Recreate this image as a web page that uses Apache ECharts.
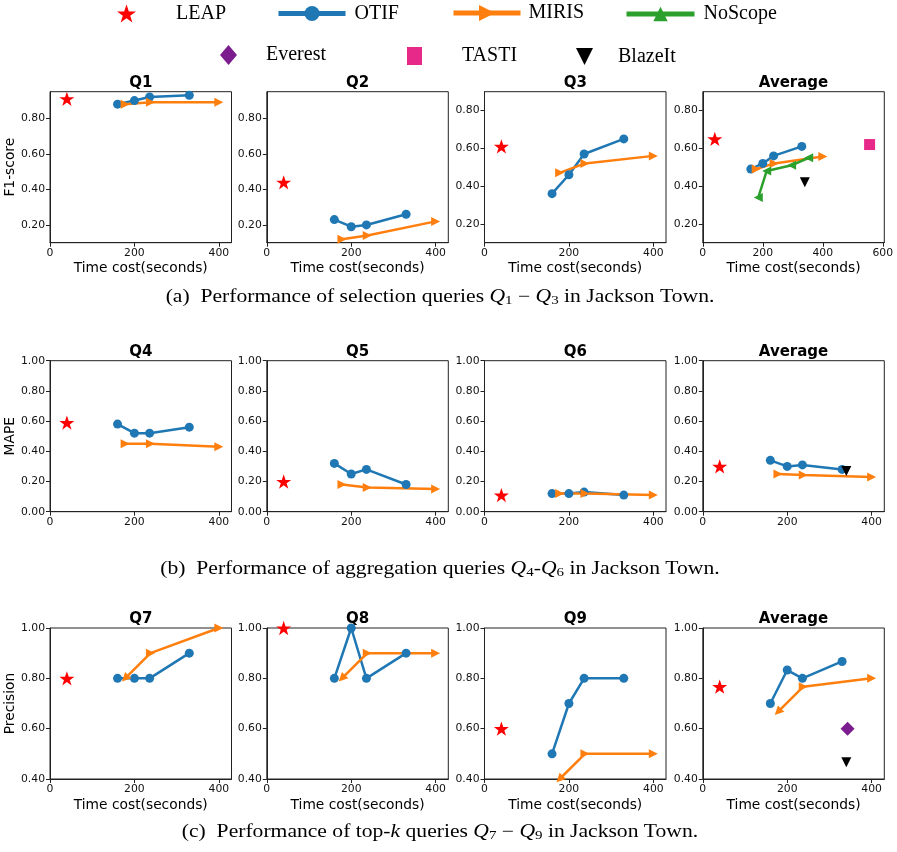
<!DOCTYPE html>
<html><head><meta charset="utf-8">
<script src="https://cdn.jsdelivr.net/npm/echarts@6/dist/echarts.min.js"></script>
<style>html,body{margin:0;padding:0;background:#fff}#c{width:897px;height:852px}</style>
</head><body><div id="c"></div>
<script>
// ---------- data ----------
const xTicks = [0, 200, 400];
const xTicksWide = [0, 200, 400, 600];
const yTicksF1 = [0.2, 0.4, 0.6, 0.8];
const yTicksMape = [0, 0.2, 0.4, 0.6, 0.8, 1.0];
const yTicksPrec = [0.4, 0.6, 0.8, 1.0];

const panelTitles = ['Q1', 'Q2', 'Q3', 'Average', 'Q4', 'Q5', 'Q6', 'Average', 'Q7', 'Q8', 'Q9', 'Average'];
const rowMetrics = ['F1-score', 'MAPE', 'Precision'];
const xAxisTitle = 'Time cost(seconds)';

const leapTime = [40];
const otifTime = [160, 200, 236, 330];
const mirisTime = [178, 238, 400];
const noscopeTime = [185, 213, 296, 353];
const blazeitTime = [340];
const everestTime = [343];
const tastiTime = [556];

const leapScore = [0.91, 0.44, 0.61, 0.65, 0.59, 0.20, 0.11, 0.30, 0.80, 1.00, 0.60, 0.767];

const otifQ1 = [0.88, 0.90, 0.92, 0.93];
const otifQ2 = [0.23, 0.19, 0.20, 0.26];
const otifQ3 = [0.36, 0.46, 0.57, 0.65];
const otifAvgA = [0.49, 0.52, 0.56, 0.61];
const otifQ4 = [0.58, 0.52, 0.52, 0.56];
const otifQ5 = [0.32, 0.25, 0.28, 0.18];
const otifQ6 = [0.12, 0.12, 0.13, 0.11];
const otifAvgB = [0.34, 0.30, 0.31, 0.28];
const otifQ7 = [0.80, 0.80, 0.80, 0.90];
const otifQ8 = [0.80, 1.00, 0.80, 0.90];
const otifQ9 = [0.50, 0.70, 0.80, 0.80];
const otifAvgC = [0.70, 0.833, 0.80, 0.867];

const mirisQ1 = [0.88, 0.89, 0.89];
const mirisQ2 = [0.12, 0.14, 0.22];
const mirisQ3 = [0.47, 0.52, 0.56];
const mirisAvgA = [0.49, 0.52, 0.557];
const mirisQ4 = [0.45, 0.45, 0.43];
const mirisQ5 = [0.18, 0.16, 0.15];
const mirisQ6 = [0.12, 0.12, 0.11];
const mirisAvgB = [0.25, 0.243, 0.23];
const mirisQ7 = [0.80, 0.90, 1.00];
const mirisQ8 = [0.80, 0.90, 0.90];
const mirisQ9 = [0.40, 0.50, 0.50];
const mirisAvgC = [0.667, 0.767, 0.80];

const noscopeAvgA = [0.34, 0.48, 0.51, 0.55];
const blazeitAvg = [0.42, 0.27, 0.467];   // rows a, b, c
const tastiAvgA = [0.62];
const everestAvgC = [0.60];

const otifAll = [otifQ1, otifQ2, otifQ3, otifAvgA, otifQ4, otifQ5, otifQ6, otifAvgB, otifQ7, otifQ8, otifQ9, otifAvgC];
const mirisAll = [mirisQ1, mirisQ2, mirisQ3, mirisAvgA, mirisQ4, mirisQ5, mirisQ6, mirisAvgB, mirisQ7, mirisQ8, mirisQ9, mirisAvgC];

// ---------- layout / style ----------
const colLeft = [50, 266.8, 484.5, 702.8];
const rowTop = [91.7, 360.7, 628];
const W = 181.5, H = 151;
const yRange = [[0.1, 0.95], [0.1, 0.95], [0.1, 0.9], [0.1, 0.9]];
const C = {leap: '#ff0000', otif: '#1f77b4', miris: '#ff7f0e', noscope: '#2ca02c', everest: '#7b1d8e', tasti: '#e7298a', blazeit: '#000000'};
const STAR = 'path://M50,0L61.8,35.1L97.6,35.1L68.6,56.7L79.4,90.5L50,69.1L20.6,90.5L31.4,56.7L2.4,35.1L38.2,35.1Z';
const TRI_DOWN = 'path://M0,0L10,0L5,10Z';
const SANS = 'DejaVu Sans';
const SERIF = 'Liberation Serif';
const AX = '#222';

const pairs = (xs, ys) => xs.map((x, i) => [x, ys[i]]);

const grids = [], xAxes = [], yAxes = [], series = [], graphics = [];

for (let p = 0; p < 12; p++) {
  const r = Math.floor(p / 4), c = p % 4;
  const isAvgA = p === 3;
  grids.push({left: colLeft[c], top: rowTop[r], width: W, height: H, show: true, borderColor: AX, borderWidth: 1, backgroundColor: 'transparent'});
  const xt = isAvgA ? xTicksWide : xTicks;
  xAxes.push({
    type: 'value', gridIndex: p, min: 0, max: isAvgA ? 605 : 430,
    name: r === 1 ? '' : xAxisTitle, nameLocation: 'middle', nameGap: 19,
    nameTextStyle: {fontFamily: SANS, fontSize: 13.8, color: '#000'},
    axisLine: {show: true, lineStyle: {color: AX, width: 1}},
    axisTick: {show: true, length: 4, inside: false, customValues: xt, lineStyle: {color: AX}},
    axisLabel: {customValues: xt, margin: 5, fontFamily: SANS, fontSize: 10.8, color: '#111', formatter: v => String(v)},
    splitLine: {show: false}
  });
  let ymin, ymax, yt;
  if (r === 0) { ymin = yRange[c][0]; ymax = yRange[c][1]; yt = yTicksF1; }
  else if (r === 1) { ymin = 0; ymax = 1; yt = yTicksMape; }
  else { ymin = 0.4; ymax = 1; yt = yTicksPrec; }
  yAxes.push({
    type: 'value', gridIndex: p, min: ymin, max: ymax,
    name: c === 0 ? rowMetrics[r] : '', nameLocation: 'middle', nameGap: 33,
    nameTextStyle: {fontFamily: SANS, fontSize: 13.8, color: '#000'},
    axisLine: {show: true, lineStyle: {color: AX, width: 1}},
    axisTick: {show: true, length: 4, inside: false, customValues: yt, lineStyle: {color: AX}},
    axisLabel: {customValues: yt, margin: 5, fontFamily: SANS, fontSize: 10.8, color: '#111', formatter: v => v.toFixed(2)},
    splitLine: {show: false}
  });
  graphics.push({type: 'text', x: colLeft[c] + W / 2, y: rowTop[r] - 9,
    style: {text: panelTitles[p], fontFamily: SANS, fontWeight: 'bold', fontSize: 15, fill: '#000', align: 'center', verticalAlign: 'middle'}});

  series.push({type: 'scatter', name: 'LEAP', xAxisIndex: p, yAxisIndex: p, symbol: STAR, symbolSize: 15, symbolKeepAspect: true,
    itemStyle: {color: C.leap, opacity: 1}, data: pairs(leapTime, [leapScore[p]]), z: 3});
  series.push({type: 'line', name: 'OTIF', xAxisIndex: p, yAxisIndex: p, symbol: 'circle', symbolSize: 9, showSymbol: true,
    lineStyle: {width: 2.5, color: C.otif}, itemStyle: {color: C.otif}, data: pairs(otifTime, otifAll[p]), z: 3});
  const md = pairs(mirisTime, mirisAll[p]).map((v, i) => (r === 2 && i === 0) ? {value: v, symbolRotate: 135} : v);
  series.push({type: 'line', name: 'MIRIS', xAxisIndex: p, yAxisIndex: p, symbol: 'triangle', symbolRotate: -90, symbolSize: 9, showSymbol: true,
    lineStyle: {width: 2.5, color: C.miris}, itemStyle: {color: C.miris}, data: md, z: 3});
  if (isAvgA) {
    series.push({type: 'line', name: 'NoScope', xAxisIndex: p, yAxisIndex: p, symbol: 'triangle', symbolRotate: 90, symbolSize: 9, showSymbol: true,
      lineStyle: {width: 2.5, color: C.noscope}, itemStyle: {color: C.noscope}, data: pairs(noscopeTime, noscopeAvgA), z: 3});
  }
  if (p === 11) {
    series.push({type: 'scatter', name: 'Everest', xAxisIndex: p, yAxisIndex: p, symbol: 'diamond', symbolSize: 14,
      itemStyle: {color: C.everest, opacity: 1}, data: pairs(everestTime, everestAvgC), z: 3});
  }
  if (isAvgA) {
    series.push({type: 'scatter', name: 'TASTI', xAxisIndex: p, yAxisIndex: p, symbol: 'rect', symbolSize: 11,
      itemStyle: {color: C.tasti, opacity: 1}, data: pairs(tastiTime, tastiAvgA), z: 3});
  }
  if (c === 3) {
    series.push({type: 'scatter', name: 'BlazeIt', xAxisIndex: p, yAxisIndex: p, symbol: TRI_DOWN, symbolSize: 10,
      itemStyle: {color: C.blazeit, opacity: 1}, data: pairs(blazeitTime, [blazeitAvg[r]]), z: 4});
  }
}

// captions
const capRich = {
  n: {fontFamily: SERIF, fontSize: 18, fill: '#000'},
  q: {fontFamily: SERIF, fontSize: 18, fontStyle: 'italic', fill: '#000'},
  s: {fontFamily: SERIF, fontSize: 12.5, fill: '#000', padding: [8, 0, 0, 0]}
};
const captions = [
  ['{n|(a)  Performance of selection queries }{q|Q}{s|1}{n| − }{q|Q}{s|3}{n| in Jackson Town.}', 297],
  ['{n|(b)  Performance of aggregation queries }{q|Q}{s|4}{n|-}{q|Q}{s|6}{n| in Jackson Town.}', 569],
  ['{n|(c)  Performance of top-}{q|k}{n| queries }{q|Q}{s|7}{n| − }{q|Q}{s|9}{n| in Jackson Town.}', 832]
];
captions.forEach(([t, y]) => graphics.push({type: 'text', x: 440, y: y, scaleX: 1.2,
  style: {text: t, rich: capRich, align: 'center', verticalAlign: 'middle'}}));

// legends
const legText = {fontFamily: SERIF, fontSize: 20, color: '#000'};
const mkLeg = (name, left, cy, w, h, pad, extra) => Object.assign({
  data: [name], left: left, top: cy - h / 2, itemWidth: w, itemHeight: h, selectedMode: false, padding: 0,
  textStyle: Object.assign({}, legText, {padding: [0, 0, 0, pad]}),
  lineStyle: {width: 5}
}, extra || {});
const legends = [
  mkLeg('LEAP', 117, 13, 19, 19, 35),
  mkLeg('OTIF', 276, 13, 67, 19, 4),
  mkLeg('MIRIS', 451, 13, 67, 20, 3),
  mkLeg('NoScope', 624, 13, 68, 18, 4, {symbolRotate: 0}),
  mkLeg('Everest', 220, 55, 17, 20, 24),
  mkLeg('TASTI', 407, 55, 15, 18, 35),
  mkLeg('BlazeIt', 576, 55, 17, 17, 20)
];

const chart = echarts.init(document.getElementById('c'), null, {renderer: 'canvas'});
chart.setOption({
  animation: false,
  backgroundColor: '#fff',
  grid: grids, xAxis: xAxes, yAxis: yAxes, series: series,
  legend: legends,
  graphic: graphics
});
</script></body></html>
